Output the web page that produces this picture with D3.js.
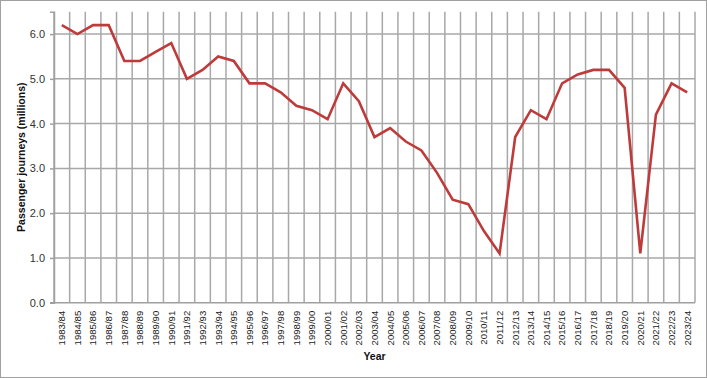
<!DOCTYPE html>
<html><head><meta charset="utf-8">
<script src="https://cdn.jsdelivr.net/npm/d3@7"></script>
<style>body{margin:0;background:#fff}svg{display:block}</style>
</head><body>
<svg id="c" width="707" height="378"></svg>
<script>
const years = ["1983/84","1984/85","1985/86","1986/87","1987/88","1988/89","1989/90","1990/91","1991/92","1992/93","1993/94","1994/95","1995/96","1996/97","1997/98","1998/99","1999/00","2000/01","2001/02","2002/03","2003/04","2004/05","2005/06","2006/07","2007/08","2008/09","2009/10","2010/11","2011/12","2012/13","2013/14","2014/15","2015/16","2016/17","2017/18","2018/19","2019/20","2020/21","2021/22","2022/23","2023/24"];
const journeys = [6.2,6.0,6.2,6.2,5.4,5.4,5.6,5.8,5.0,5.2,5.5,5.4,4.9,4.9,4.7,4.4,4.3,4.1,4.9,4.5,3.7,3.9,3.6,3.4,2.9,2.3,2.2,1.6,1.1,3.7,4.3,4.1,4.9,5.1,5.2,5.2,4.8,1.1,4.2,4.9,4.7];
const yTicks = [0,1,2,3,4,5,6];

const svg = d3.select("#c");
const L = 54, R = 695, T = 11.7, B = 302.7;
const font = "'Liberation Sans', Arial, sans-serif";

svg.append("rect").attr("x",0.5).attr("y",0.5).attr("width",706).attr("height",377)
  .attr("fill","#fff").attr("stroke","#a0a0a0");

const x = d3.scaleBand().domain(years).range([L,R]).padding(0);
const y = d3.scaleLinear().domain([0,6.5]).range([B,T]);

const g = svg.append("g");
// horizontal gridlines
g.selectAll("line.h").data(yTicks.slice(1)).join("line")
  .attr("x1",L).attr("x2",R).attr("y1",d=>y(d)).attr("y2",d=>y(d))
  .attr("stroke","#a8a8a8").attr("stroke-width",1.5);
// vertical gridlines at band boundaries
const bounds = years.map(d=>x(d)).concat([R]);
g.selectAll("line.v").data(bounds).join("line")
  .attr("x1",d=>d).attr("x2",d=>d).attr("y1",T).attr("y2",B)
  .attr("stroke","#a8a8a8").attr("stroke-width",1.5);
// x axis baseline
g.append("line").attr("x1",L-4).attr("x2",R).attr("y1",B).attr("y2",B)
  .attr("stroke","#a0a0a0").attr("stroke-width",1.5);

// y axis
const ya = svg.append("g").attr("transform",`translate(${L},0)`)
  .call(d3.axisLeft(y).tickValues(yTicks).tickFormat(d3.format(".1f")).tickSize(4).tickPadding(5));
ya.select(".domain").attr("stroke","#a0a0a0").attr("stroke-width",1.5);
ya.selectAll(".tick line").attr("stroke","#a0a0a0").attr("stroke-width",1.5);
ya.selectAll("text").attr("font-family",font).attr("font-size","11px").attr("fill","#333");

// x axis labels
const xa = svg.append("g").attr("transform",`translate(0,${B})`)
  .call(d3.axisBottom(x).tickSize(0).tickPadding(0));
xa.select(".domain").remove();
xa.selectAll("text")
  .attr("font-family",font).attr("font-size","9.6px").attr("fill","#222")
  .attr("transform","translate(0,8) rotate(-90)")
  .attr("text-anchor","end").attr("x",0).attr("y",0).attr("dy","0.35em").attr("dx",0);

// line
svg.append("path").datum(journeys)
  .attr("fill","none").attr("stroke","#be3b3b").attr("stroke-width",2.6)
  .attr("stroke-linejoin","miter")
  .attr("d", d3.line().x((d,i)=>x(years[i])+x.bandwidth()/2).y(d=>y(d)));

// axis titles
svg.append("text").attr("x",(L+R)/2).attr("y",360).attr("text-anchor","middle")
  .attr("font-family",font).attr("font-weight","bold").attr("font-size","10.5px").attr("fill","#111").text("Year");
svg.append("text").attr("transform",`translate(25,${(T+B)/2}) rotate(-90)`).attr("text-anchor","middle")
  .attr("font-family",font).attr("font-weight","bold").attr("font-size","10.5px").attr("fill","#111").text("Passenger journeys (millions)");
</script>
</body></html>
